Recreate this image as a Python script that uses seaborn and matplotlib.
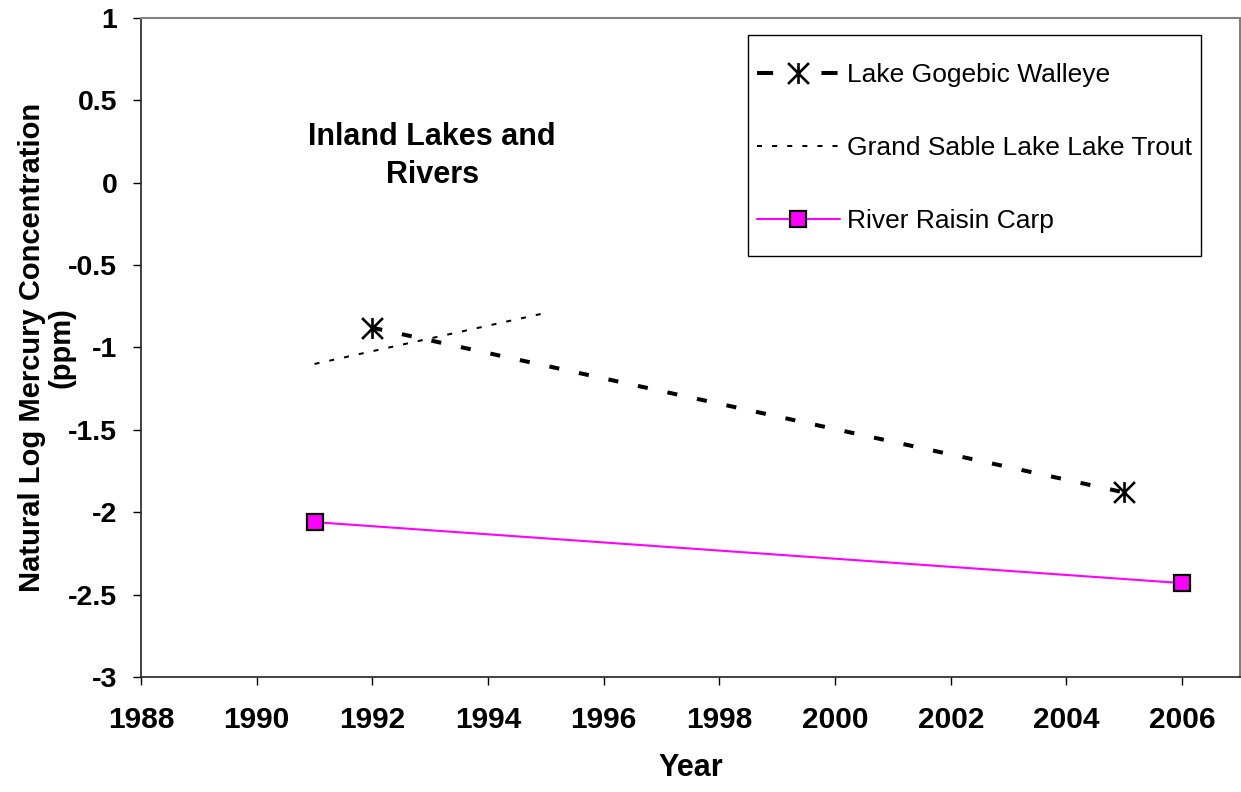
import matplotlib
matplotlib.use("Agg")
import matplotlib.pyplot as plt
from matplotlib.path import Path
from matplotlib.patches import Rectangle
import seaborn as sns
import pandas as pd

sns.set_theme(style="white")
plt.rcParams["font.family"] = ["Liberation Sans", "DejaVu Sans"]
plt.rcParams["text.color"] = "black"
plt.rcParams["axes.labelcolor"] = "black"
plt.rcParams["xtick.color"] = "black"
plt.rcParams["ytick.color"] = "black"

# Data: natural log of mercury concentration (ppm) by year
walleye_years = [1992, 2005]
walleye_values = [-0.88, -1.88]
trout_years = [1991, 1995]
trout_values = [-1.10, -0.79]
carp_years = [1991, 2006]
carp_values = [-2.06, -2.43]

series_names = ["Lake Gogebic Walleye", "Grand Sable Lake Lake Trout", "River Raisin Carp"]
x_ticks = [1988, 1990, 1992, 1994, 1996, 1998, 2000, 2002, 2004, 2006]
y_ticks = [1, 0.5, 0, -0.5, -1, -1.5, -2, -2.5, -3]

walleye = pd.DataFrame({"Year": walleye_years, "value": walleye_values})
trout = pd.DataFrame({"Year": trout_years, "value": trout_values})
carp = pd.DataFrame({"Year": carp_years, "value": carp_values})

# Asterisk marker: an X with a vertical stroke
star = Path(
    [(-1, -1), (1, 1), (-1, 1), (1, -1), (0, -1), (0, 1)],
    [Path.MOVETO, Path.LINETO, Path.MOVETO, Path.LINETO, Path.MOVETO, Path.LINETO],
)

fig = plt.figure(figsize=(12.41, 7.92), dpi=100)
ax = fig.add_axes([0.1136, 0.1452, 0.8856, 0.8321])

sns.lineplot(data=walleye, x="Year", y="value", ax=ax, color="black",
             linewidth=2.9, marker=star, markersize=15,
             markeredgewidth=1.9, markeredgecolor="black", label=series_names[0])
sns.lineplot(data=trout, x="Year", y="value", ax=ax, color="black",
             linewidth=1.45, label=series_names[1])
sns.lineplot(data=carp, x="Year", y="value", ax=ax, color="#FF00FF",
             linewidth=1.5, marker="s", markersize=11, markerfacecolor="#FF00FF",
             markeredgecolor="black", markeredgewidth=1.6, label=series_names[2])

lines = ax.get_lines()
for ln in lines[:2]:
    ln.set_linestyle((0, (2.5, 5)))
    ln.set_dash_capstyle("butt")

ax.set_xlim(1988, 2007)
ax.set_ylim(-3, 1)
ax.set_xticks(x_ticks)
ax.set_yticks(y_ticks)
ax.set_xticklabels([str(t) for t in x_ticks])
ax.set_yticklabels([f"{t:g}" for t in y_ticks])
ax.tick_params(axis="both", which="major", direction="out", length=6, width=1,
               color="black", bottom=True, left=True)
ax.tick_params(axis="x", labelsize=21.5, pad=15)
ax.tick_params(axis="y", labelsize=20.5, pad=11)
for lab in ax.get_xticklabels() + ax.get_yticklabels():
    lab.set_fontweight("bold")

for side in ["left", "bottom"]:
    ax.spines[side].set_color("#222222")
    ax.spines[side].set_linewidth(1.2)
for side in ["top", "right"]:
    ax.spines[side].set_color("#808080")
    ax.spines[side].set_linewidth(1.5)

ax.set_xlabel("Year", fontsize=22, fontweight="bold")
ax.xaxis.set_label_coords(0.5, -0.115)
ax.set_ylabel("Natural Log Mercury Concentration\n(ppm)", fontsize=21,
              fontweight="bold", linespacing=1.05)
ax.yaxis.set_label_coords(-0.06, 0.5)

ax.text(0.265, 0.79, "Inland Lakes and\nRivers", transform=ax.transAxes,
        ha="center", va="center", fontsize=22, fontweight="bold", linespacing=1.35)

# Legend box drawn as a plain white rectangle, entries placed inside it
ax.add_patch(Rectangle((0.5523, 0.6388), 0.4122, 0.3354, transform=ax.transAxes,
                       facecolor="white", edgecolor="black", linewidth=1.0,
                       zorder=4, clip_on=False))
leg = ax.legend(loc="upper left", bbox_to_anchor=(0.5605, 0.9317), fontsize=19,
                frameon=False, borderpad=0, labelspacing=1.86, handlelength=3.14,
                handletextpad=0.27, borderaxespad=0)
leg.set_zorder(5)
leg_lines = leg.get_lines()
leg_lines[0].set_linestyle((0, (4, 12)))
leg_lines[0].set_dash_capstyle("butt")

fig.savefig("out.png", dpi=100)
